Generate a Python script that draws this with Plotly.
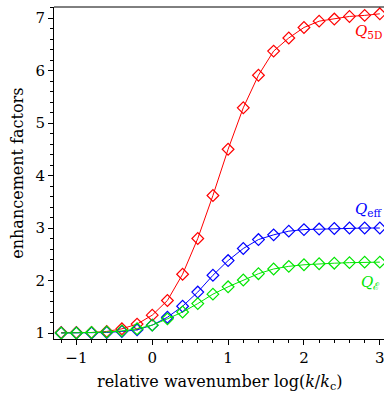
import plotly.graph_objects as go

x_vals = [-1.2, -1.0, -0.8, -0.6, -0.4, -0.2, 0.0, 0.2, 0.4, 0.6, 0.8,
          1.0, 1.2, 1.4, 1.6, 1.8, 2.0, 2.2, 2.4, 2.6, 2.8, 3.0]
q_5d = [1.01, 1.01, 1.01, 1.03, 1.08, 1.17, 1.34, 1.62, 2.12, 2.80, 3.62,
        4.50, 5.29, 5.91, 6.37, 6.62, 6.82, 6.94, 6.98, 7.03, 7.05, 7.08]
q_eff = [1.00, 1.00, 1.00, 1.01, 1.03, 1.06, 1.15, 1.30, 1.51, 1.78, 2.10,
         2.38, 2.61, 2.78, 2.87, 2.94, 2.97, 2.98, 2.99, 3.00, 3.00, 3.00]
q_e = [1.00, 1.00, 1.01, 1.02, 1.04, 1.08, 1.15, 1.27, 1.40, 1.56, 1.74,
       1.88, 2.01, 2.13, 2.22, 2.27, 2.30, 2.32, 2.33, 2.34, 2.35, 2.35]

series = [
    (q_5d, "#ff0000", "<i>Q</i><sub>5D</sub>", 2.65, 6.74),
    (q_eff, "#0000ff", "<i>Q</i><sub>eff</sub>", 2.64, 3.35),
    (q_e, "#00e600", "<i>Q</i><sub>ℰ</sub>", 2.72, 1.96),
]

font_family = "DejaVu Serif"
fig = go.Figure()
for ys, col, name, lx, ly in series:
    fig.add_trace(go.Scatter(
        x=x_vals, y=ys, mode="lines+markers",
        line=dict(color=col, width=1),
        marker=dict(symbol="diamond-open", size=9, color=col, line=dict(width=1.2)),
        showlegend=False, cliponaxis=False))
    fig.add_annotation(x=lx, y=ly, text=name, showarrow=False,
                       font=dict(color=col, size=15, family=font_family),
                       xanchor="left", yanchor="middle")

fig.update_layout(
    width=384, height=394,
    margin=dict(l=54, r=0, t=7, b=55, autoexpand=False),
    plot_bgcolor="white", paper_bgcolor="white",
    font=dict(family=font_family, size=15, color="black"),
    xaxis=dict(range=[-1.295, 3.055], tickvals=[-1, 0, 1, 2, 3],
               ticktext=["−1", "0", "1", "2", "3"], automargin=False,
               ticklabeloverflow="allow",
               ticks="outside", ticklen=5, tickwidth=1, tickcolor="black",
               minor=dict(dtick=0.2, tick0=0, ticks="outside", ticklen=3, tickcolor="black"),
               showline=True, linecolor="black", linewidth=1, mirror=False,
               showgrid=False, zeroline=False),
    yaxis=dict(range=[0.886, 7.21], tickvals=[1, 2, 3, 4, 5, 6, 7], automargin=False,
               ticks="outside", ticklen=5, tickwidth=1, tickcolor="black",
               minor=dict(dtick=0.2, tick0=0, ticks="outside", ticklen=3, tickcolor="black"),
               showline=True, linecolor="black", linewidth=1,
               showgrid=False, zeroline=False),
)
fig.add_annotation(xref="paper", yref="paper", x=0.5, y=-0.132, yanchor="middle",
                   text="relative wavenumber log(<i>k</i>/<i>k</i><sub>c</sub>)",
                   showarrow=False, font=dict(size=16, family=font_family))
fig.add_annotation(xref="paper", yref="paper", x=-0.113, y=0.5, xanchor="center",
                   yanchor="middle", textangle=-90,
                   text="enhancement factors",
                   showarrow=False, font=dict(size=16, family=font_family))
fig.add_shape(type="line", xref="paper", yref="paper", x0=0, x1=1, y0=1, y1=1,
              line=dict(color="black", width=1))
fig.write_html("out.html", config={"displayModeBar": False},
               post_script="document.body.style.margin='0';document.body.style.overflow='hidden';")
